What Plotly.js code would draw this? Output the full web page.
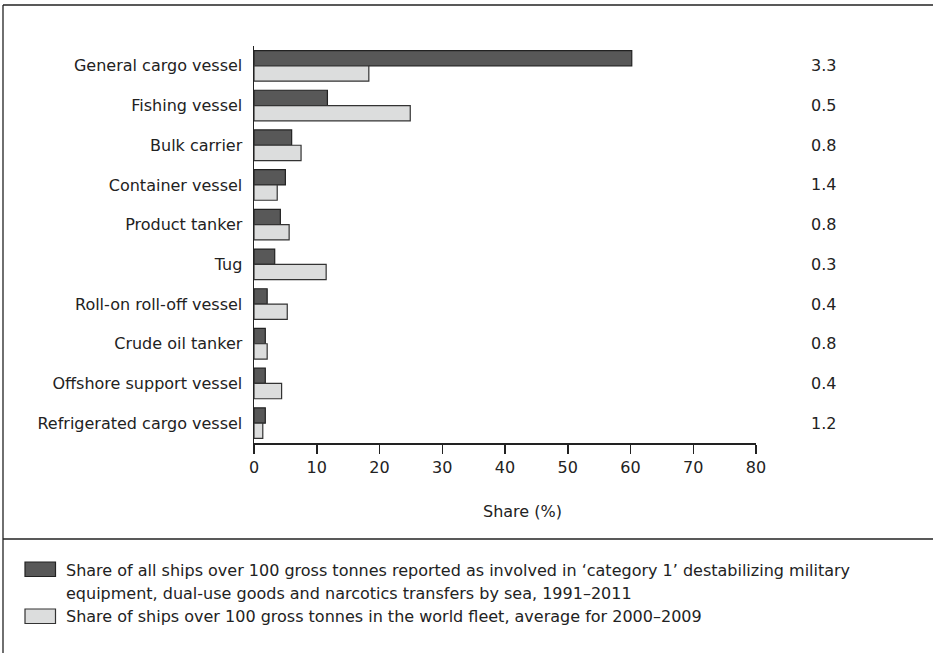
<!DOCTYPE html>
<html>
<head>
<meta charset="utf-8">
<script src="https://cdn.plot.ly/plotly-3.0.1.min.js"></script>
<style>
html,body{margin:0;padding:0;background:#fff;}
#chart{width:933px;height:653px;}
</style>
</head>
<body>
<div id="chart"></div>
<script>
const categories = [
  "General cargo vessel",
  "Fishing vessel",
  "Bulk carrier",
  "Container vessel",
  "Product tanker",
  "Tug",
  "Roll-on roll-off vessel",
  "Crude oil tanker",
  "Offshore support vessel",
  "Refrigerated cargo vessel"
];
const shareTransfers = [60.2, 11.7, 6.0, 5.0, 4.2, 3.3, 2.1, 1.8, 1.8, 1.8];
const shareFleet = [18.3, 24.9, 7.5, 3.7, 5.6, 11.5, 5.3, 2.1, 4.4, 1.4];
const ratios = ["3.3", "0.5", "0.8", "1.4", "0.8", "0.3", "0.4", "0.8", "0.4", "1.2"];
const xTicks = [0, 10, 20, 30, 40, 50, 60, 70, 80];
const xTitle = "Share (%)";
const legendLines1 = [
  "Share of all ships over 100 gross tonnes reported as involved in \u2018category 1\u2019 destabilizing military",
  "equipment, dual-use goods and narcotics transfers by sea, 1991\u20132011"
];
const legendLines2 = [
  "Share of ships over 100 gross tonnes in the world fleet, average for 2000\u20132009"
];

const W = 933, H = 653;
const L = 254, R = 177, T = 46, B = 210;
const pw = W - L - R, ph = H - T - B;
const px = v => (v - L) / pw;          // pixel x -> paper x
const py = v => (H - B - v) / ph;      // pixel y -> paper y

const FONT = "DejaVu Sans, Verdana, sans-serif";
const LFONT = "DejaVu Sans, Verdana, sans-serif";
const INK = "#222222";
const DARK = "#585858";
const LIGHT = "#dcdddd";

const traces = [
  {
    type: "bar", orientation: "h",
    y: categories, x: shareTransfers,
    marker: {color: DARK, line: {color: INK, width: 1.2}},
    name: legendLines1.join(" "), hoverinfo: "x+y"
  },
  {
    type: "bar", orientation: "h",
    y: categories, x: shareFleet,
    marker: {color: LIGHT, line: {color: "#333333", width: 1.2}},
    name: legendLines2.join(" "), hoverinfo: "x+y"
  }
];

const annotations = [];
categories.forEach((c, i) => {
  annotations.push({
    xref: "paper", yref: "y", x: px(823), y: c,
    text: ratios[i], showarrow: false, xanchor: "center", yanchor: "middle",
    font: {family: FONT, size: 16, color: INK}
  });
});
annotations.push({
  xref: "paper", yref: "paper", x: px(522), y: py(512),
  text: xTitle, showarrow: false, xanchor: "center", yanchor: "middle",
  font: {family: FONT, size: 16, color: INK}
});
const legendYs = [570, 593];
legendLines1.forEach((t, i) => annotations.push({
  xref: "paper", yref: "paper", x: px(64), y: py(legendYs[i]),
  text: t, showarrow: false, xanchor: "left", yanchor: "middle",
  font: {family: LFONT, size: 16, color: INK}
}));
legendLines2.forEach((t, i) => annotations.push({
  xref: "paper", yref: "paper", x: px(64), y: py(616 + 22 * i),
  text: t, showarrow: false, xanchor: "left", yanchor: "middle",
  font: {family: LFONT, size: 16, color: INK}
}));

const shapes = [
  // frame
  {type: "line", xref: "paper", yref: "paper", x0: px(3), x1: px(940), y0: py(5), y1: py(5), line: {color: INK, width: 1.3}},
  {type: "line", xref: "paper", yref: "paper", x0: px(3), x1: px(3), y0: py(5), y1: py(660), line: {color: INK, width: 1.3}},
  {type: "line", xref: "paper", yref: "paper", x0: px(3), x1: px(940), y0: py(539), y1: py(539), line: {color: INK, width: 1.3}},
  // legend swatches
  {type: "rect", xref: "paper", yref: "paper", x0: px(25), x1: px(55.5), y0: py(562), y1: py(576.5), fillcolor: DARK, line: {color: INK, width: 1.2}},
  {type: "rect", xref: "paper", yref: "paper", x0: px(25), x1: px(55.5), y0: py(609), y1: py(623.5), fillcolor: LIGHT, line: {color: "#333333", width: 1.2}}
];

const layout = {
  width: W, height: H,
  margin: {l: L, r: R, t: T, b: B, pad: 0},
  paper_bgcolor: "#ffffff", plot_bgcolor: "#ffffff",
  showlegend: false,
  barmode: "group", bargap: 0.23, bargroupgap: 0,
  font: {family: FONT, size: 16, color: INK},
  xaxis: {
    range: [0, 80], tickvals: xTicks, ticktext: xTicks.map(String),
    ticks: "outside", ticklen: 9, tickwidth: 1.5, tickcolor: INK,
    showline: true, linecolor: INK, linewidth: 1.5,
    showgrid: false, zeroline: false, fixedrange: true,
    tickfont: {family: FONT, size: 16, color: INK}
  },
  yaxis: {
    autorange: "reversed", type: "category",
    showline: true, linecolor: INK, linewidth: 1.5,
    ticks: "", showgrid: false, zeroline: false, fixedrange: true,
    ticklabelstandoff: 7,
    tickfont: {family: FONT, size: 16, color: INK}
  },
  annotations: annotations,
  shapes: shapes
};

Plotly.newPlot("chart", traces, layout, {displayModeBar: false, staticPlot: true});
</script>
</body>
</html>
